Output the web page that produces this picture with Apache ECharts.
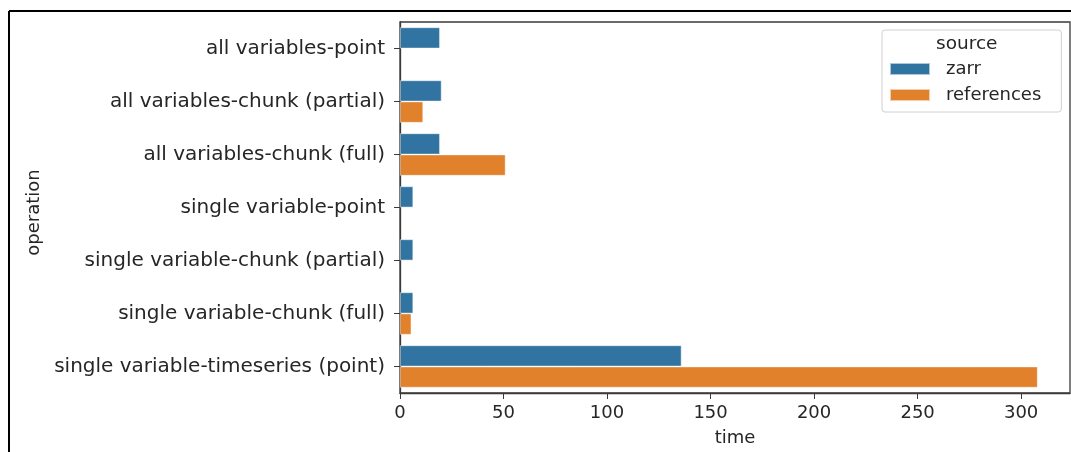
<!DOCTYPE html>
<html>
<head>
<meta charset="utf-8">
<script src="https://cdn.jsdelivr.net/npm/echarts@6/dist/echarts.min.js"></script>
<style>html,body{margin:0;padding:0;background:#fff;}#chart{width:1071px;height:452px;}</style>
</head>
<body>
<div id="chart"></div>
<script>
const categories = [
  'all variables-point',
  'all variables-chunk (partial)',
  'all variables-chunk (full)',
  'single variable-point',
  'single variable-chunk (partial)',
  'single variable-chunk (full)',
  'single variable-timeseries (point)'
];
const zarrTimes = [19.3, 20.1, 19.3, 6.4, 6.4, 6.4, 136];
const referenceTimes = [null, 11.2, 51.0, null, null, 5.5, 308];
const xTicks = [0, 50, 100, 150, 200, 250, 300];
const seriesNames = ['zarr', 'references'];

const FONT = 'DejaVu Sans';
const TXT = '#262626';
const chart = echarts.init(document.getElementById('chart'));
chart.setOption({
  animation: false,
  backgroundColor: '#fff',
  textStyle: { fontFamily: FONT },
  grid: { left: 400, right: 1, top: 22, bottom: 59, show: true, borderColor: '#3a3a3a', borderWidth: 1.3, containLabel: false, outerBoundsMode: 'none' },
  xAxis: {
    type: 'value', min: 0, max: 323.6,
    name: 'time', nameLocation: 'middle', nameGap: 36,
    nameTextStyle: { fontFamily: FONT, fontSize: 18, color: TXT },
    axisLine: { show: true, lineStyle: { color: '#3a3a3a', width: 1.3 } },
    axisTick: { show: true, length: 6, customValues: xTicks, lineStyle: { color: '#3a3a3a' } },
    axisLabel: { customValues: xTicks, fontFamily: FONT, fontSize: 18, color: TXT, margin: 11 },
    splitLine: { show: false }
  },
  yAxis: {
    type: 'category', data: categories, inverse: true,
    name: 'operation', nameLocation: 'middle', nameGap: 356, nameRotate: 90,
    nameTextStyle: { fontFamily: FONT, fontSize: 18, color: TXT, padding: [0, 10, 0, 0] },
    axisLine: { show: true, lineStyle: { color: '#3a3a3a', width: 1.3 } },
    axisTick: { show: true, alignWithLabel: true, length: 6, lineStyle: { color: '#3a3a3a' } },
    axisLabel: { fontFamily: FONT, fontSize: 20, color: TXT, margin: 15 }
  },
  legend: {
    data: seriesNames, orient: 'vertical', left: 882, top: 30,
    padding: [30, 20, 8, 7], itemGap: 8, itemWidth: 40, itemHeight: 12,
    backgroundColor: '#fff', borderColor: '#d0d0d0', borderWidth: 1, borderRadius: 3,
    icon: 'rect',
    textStyle: { fontFamily: FONT, fontSize: 18, color: TXT, padding: [0, 0, 0, 11] }
  },
  graphic: [
    { type: 'text', left: 936, top: 35, z: 100, zlevel: 1, style: { text: 'source', fontFamily: FONT, fontSize: 18.5, fill: TXT } },
    { type: 'line', z: 100, shape: { x1: 9, y1: 11, x2: 1071, y2: 11 }, style: { stroke: '#000', lineWidth: 2 } },
    { type: 'line', z: 100, shape: { x1: 9, y1: 11, x2: 9, y2: 452 }, style: { stroke: '#000', lineWidth: 2 } }
  ],
  series: [
    { name: seriesNames[0], type: 'bar', data: zarrTimes, barCategoryGap: '20%', barGap: '0%',
      itemStyle: { color: '#3274a1', borderColor: 'rgba(255,255,255,0.6)', borderWidth: 0.8 } },
    { name: seriesNames[1], type: 'bar', data: referenceTimes, barCategoryGap: '20%', barGap: '0%',
      itemStyle: { color: '#e1812c', borderColor: 'rgba(255,255,255,0.6)', borderWidth: 0.8 } }
  ]
});
</script>
</body>
</html>
